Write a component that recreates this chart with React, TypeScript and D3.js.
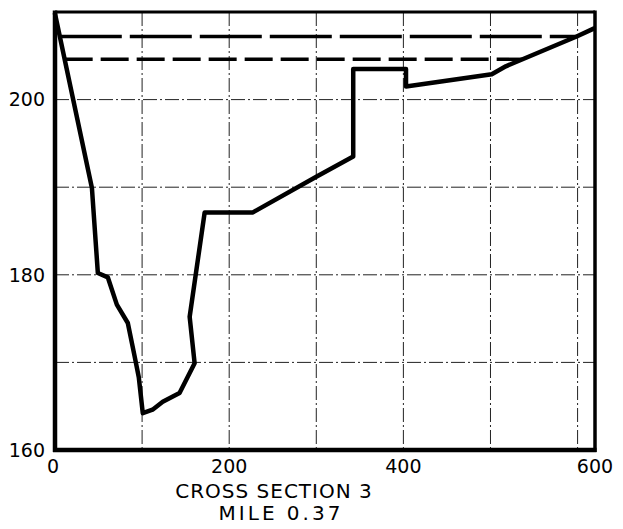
import React from "react";
import * as d3 from "d3";

// Ground profile (station ft, elevation ft)
const stations = [0, 42.4, 49.2, 60.7, 71, 83.6, 91.6, 96.2, 100.8, 112, 123.7, 143, 160.3, 154.6, 171.8, 226.7, 300, 342.4, 342.4, 403, 403, 501.5, 517.6, 598.9, 618.4];
const elevations = [209.8, 189.9, 180.2, 179.7, 176.6, 174.5, 170.6, 168.3, 164.2, 164.6, 165.5, 166.5, 169.9, 175.2, 187.1, 187.1, 191.2, 193.5, 203.5, 203.5, 201.5, 202.9, 203.8, 207.2, 208.1];

// Water surfaces: [start station, end station, elevation]
const upperWater = [5.5, 598.9, 207.2];
const lowerWater = [11.1, 536.7, 204.6];

const xTicks = [0, 200, 400, 600];
const yTicks = [160, 180, 200];
const xGrid = [100, 200, 300, 400, 500, 600];
const yGrid = [170, 180, 190, 200];
const titleLines = ["CROSS SECTION 3", "MILE 0.37"];

export default function App() {
  const W = 623, H = 529;
  const x = d3.scaleLinear().domain([0, 620]).range([55, 595]);
  const y = d3.scaleLinear().domain([160, 210]).range([450, 12]);
  const pts: [number, number][] = stations.map((s, i) => [s, elevations[i]]);
  const line = d3.line<[number, number]>().x(d => x(d[0])).y(d => y(d[1]));
  const font = "'DejaVu Sans', sans-serif";
  const [x0, x1] = x.range();
  const [yb, yt] = y.range();

  return (
    <svg width={W} height={H} style={{ position: "absolute", left: 0, top: 0, background: "#fff" }}>
      <rect width={W} height={H} fill="#fff" />
      {/* grid */}
      {xGrid.map(v => (
        <line key={"gx" + v} x1={x(v)} x2={x(v)} y1={yt} y2={yb} stroke="#222" strokeWidth={1} strokeDasharray="14,3,2,3" />
      ))}
      {yGrid.map(v => (
        <line key={"gy" + v} x1={x0} x2={x1} y1={y(v)} y2={y(v)} stroke="#222" strokeWidth={1} strokeDasharray="14,3,2,3" />
      ))}
      {/* water surfaces */}
      <line x1={x(upperWater[0])} x2={x(upperWater[1])} y1={y(upperWater[2])} y2={y(upperWater[2])} stroke="#000" strokeWidth={3.5} strokeDasharray="62,8" />
      <line x1={x(lowerWater[0])} x2={x(lowerWater[1])} y1={y(lowerWater[2])} y2={y(lowerWater[2])} stroke="#000" strokeWidth={3.5} strokeDasharray="28,8" />
      {/* ground profile */}
      <path d={line(pts) || ""} fill="none" stroke="#000" strokeWidth={4.5} strokeLinejoin="round" strokeLinecap="round" />
      {/* frame */}
      <line x1={x0} x2={x1} y1={yt} y2={yt} stroke="#000" strokeWidth={3} />
      <line x1={x1} x2={x1} y1={yt - 1.5} y2={yb + 2} stroke="#000" strokeWidth={3.5} />
      <line x1={x0} x2={x0} y1={yt - 1.5} y2={yb + 2} stroke="#000" strokeWidth={4.5} />
      <line x1={x0 - 2} x2={x1 + 1.5} y1={yb} y2={yb} stroke="#000" strokeWidth={4.5} />
      {/* y tick labels */}
      {yTicks.map(v => (
        <text key={"yt" + v} x={45} y={y(v)} dy="0.36em" textAnchor="end" fontFamily={font} fontSize={19} fill="#000">{v}</text>
      ))}
      {/* x tick labels */}
      {xTicks.map(v => (
        <text key={"xt" + v} x={v === 0 ? x(v) - 2 : v === 600 ? x(620) : x(v)} y={466} dy="0.36em" textAnchor="middle" fontFamily={font} fontSize={19} fill="#000">{v}</text>
      ))}
      {/* title */}
      {titleLines.map((t, i) => (
        <text key={t} x={i === 0 ? 274 : 281} y={491 + i * 22} dy="0.36em" textAnchor="middle" fontFamily={font} fontSize={20} letterSpacing={i === 0 ? 1 : 3} fill="#000">{t}</text>
      ))}
    </svg>
  );
}
